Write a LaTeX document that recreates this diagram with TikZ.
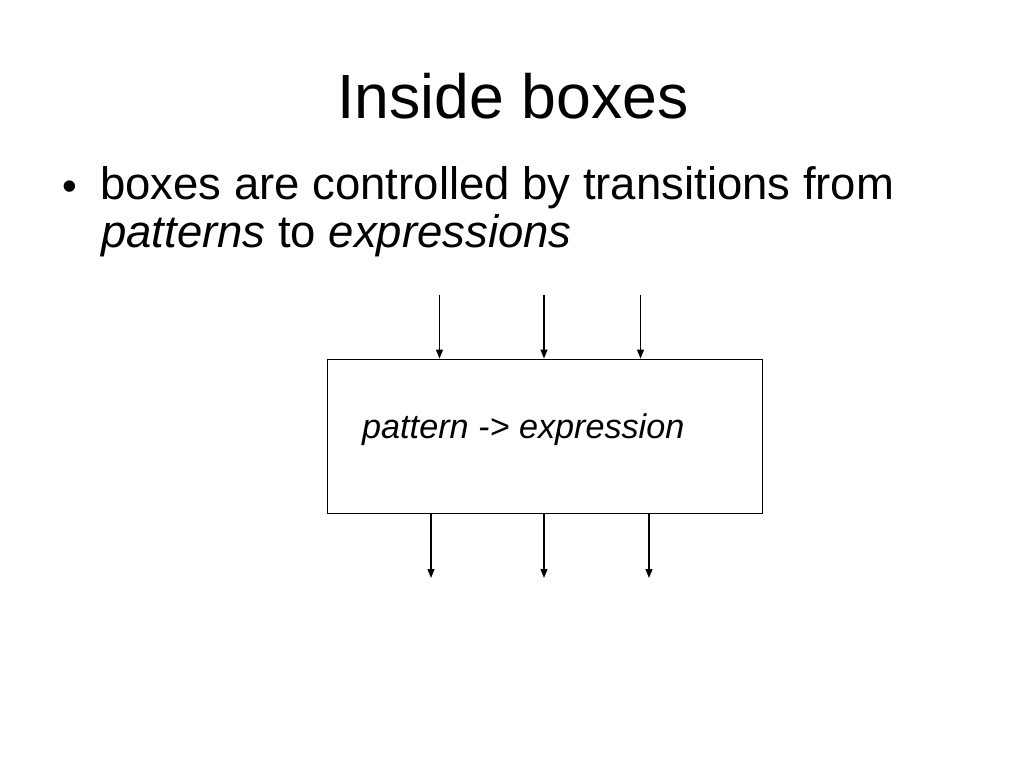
\documentclass[tikz,border=0pt]{standalone}
\usepackage{fontspec}
\setmainfont{Liberation Sans}
\usetikzlibrary{arrows.meta}
\begin{document}
\begin{tikzpicture}[x=1pt,y=-1pt,
  txt/.style={inner sep=0pt,anchor=base west},
  arr/.style={line width=1.3pt,-{Triangle[length=9pt,width=7pt]}},
  boxst/.style={draw,line width=1pt,minimum width=435pt,minimum height=154pt,inner sep=0pt}]
\useasboundingbox[fill=white] (0,0) rectangle (1024,768);
\node[inner sep=0pt,anchor=base] (title) at (513,118) {\fontsize{62.5}{70}\selectfont Inside boxes};
\node[txt] (bul) at (62.5,200) {\fontsize{42}{48}\selectfont •};
\node[txt] (l1) at (100,199) {\fontsize{45.5}{48}\selectfont boxes are controlled by transitions from};
\node[txt] (l2) at (101,247) {\fontsize{45.5}{48}\selectfont \textit{patterns} to \textit{expressions}};
\node[boxst] (box) at (544.5,436) {};
\node[txt] (lab) at (362,438) {\fontsize{34.2}{40}\selectfont \textit{pattern -> expression}};
\coordinate (t1) at (439.5,295);
\coordinate (t2) at (544,295);
\coordinate (t3) at (640.5,295);
\coordinate (b1) at (431,578);
\coordinate (b2) at (544,578);
\coordinate (b3) at (649,578);
\draw[arr] (t1) -- (t1 |- box.north);
\draw[arr] (t2) -- (t2 |- box.north);
\draw[arr] (t3) -- (t3 |- box.north);
\draw[arr] (b1 |- box.south) -- (b1);
\draw[arr] (b2 |- box.south) -- (b2);
\draw[arr] (b3 |- box.south) -- (b3);
\end{tikzpicture}
\end{document}
